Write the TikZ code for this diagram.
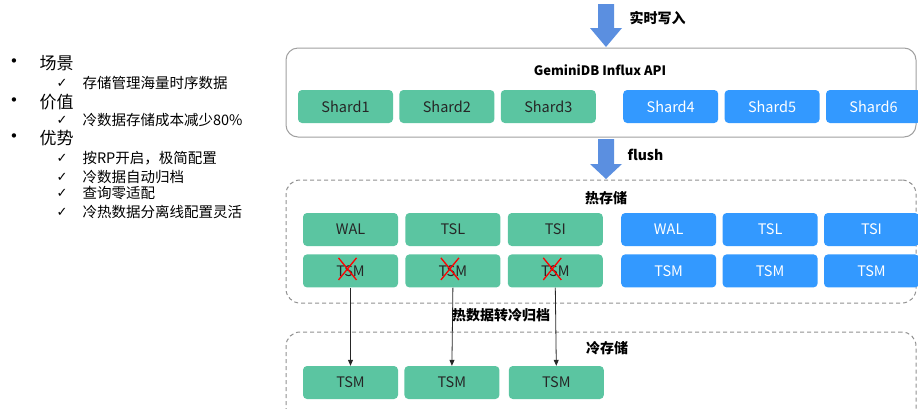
\documentclass[tikz,border=0pt]{standalone}
\usepackage{fontspec}
\setmainfont{Noto Sans CJK SC}
\newfontfamily\symfont{DejaVu Sans}
\usetikzlibrary{
    arrows.meta,
    positioning,
    calc
}
\definecolor{hotgreen}{HTML}{5BC5A1}
\definecolor{shardblue}{HTML}{3399FF}
\definecolor{arrowblue}{HTML}{5B8FE0}
\definecolor{framegray}{HTML}{A0A0A0}
\tikzset{
    % --- Green block (shard or file on the archiving side) ---
    green block/.style = {
        rectangle, rounded corners=4pt, fill=hotgreen,
        minimum width=95pt, minimum height=33pt, inner sep=0pt,
        font=\fontsize{14.5}{16}\selectfont, text=black!85
    },
    % --- Blue block (shard or file staying hot) ---
    blue block/.style = {
        green block, fill=shardblue, text=white
    },
    % --- Solid frame round the API layer ---
    api frame/.style = {
        rectangle, draw=framegray, line width=1pt,
        rounded corners=12pt
    },
    % --- Dashed frame round a storage tier ---
    store frame/.style = {
        rectangle, draw=framegray!90!black, line width=1pt,
        dash pattern=on 4pt off 3pt, rounded corners=14pt
    },
    % --- Bold title text ---
    title/.style = {
        font=\bfseries\fontsize{14}{16}\selectfont
    },
    % --- Red strike over a moved file ---
    strike/.style = {
        draw=red, line width=1.3pt
    },
    % --- Archive arrow ---
    archive arrow/.style = {
        -{Triangle[length=6pt,width=5pt]}, line width=0.8pt, black!85
    },
    % --- Fat blue arrow ---
    block arrow/.style = {
        fill=arrowblue, draw=none
    },
    % --- Left hand list ---
    heading/.style = {
        anchor=west, font=\fontsize{17}{19}\selectfont
    },
    entry/.style = {
        anchor=west, font=\fontsize{14.5}{16}\selectfont
    },
    dot/.style = {
        font=\symfont\fontsize{15}{16}\selectfont
    },
    sym/.style = {
        font=\symfont\fontsize{13}{14}\selectfont
    }
}
\begin{document}
\begin{tikzpicture}[x=1pt, y=-1pt]
\useasboundingbox (0,0) rectangle (918,408);

% ---------------------------------------------------------
% Left list
% ---------------------------------------------------------
\foreach \y/\txt in {63/场景, 102/价值, 138/优势} {
    \node[dot] (b\y) at (14,\y) {•};
    \node[heading] (h\y) at (36,\y) {\txt};
}
\foreach \y/\txt in {83/存储管理海量时序数据, 120/冷数据存储成本减少80\%,
    158/按RP开启，极简配置, 177/冷数据自动归档, 193/查询零适配,
    212/冷热数据分离线配置灵活} {
    \node[sym] (c\y) at (62,\y) {✓};
    \node[entry] (e\y) at (79,\y) {\txt};
}

% ---------------------------------------------------------
% Frames
% ---------------------------------------------------------
\node[api frame, minimum width=630pt, minimum height=89pt] (api) at (601,92.5) {};
\node[store frame, minimum width=630pt, minimum height=123pt] (hot) at (601,241.5) {};
\node[store frame, minimum width=630pt, minimum height=100pt] (cold) at (601,382) {};

\node[title, font=\bfseries\fontsize{13}{15}\selectfont] (apiTitle) at (600,70) {GeminiDB Influx API};
\node[title] (hotTitle) at (606,198) {热存储};
\node[title] (coldTitle) at (607,348) {冷存储};

% ---------------------------------------------------------
% Fat arrows
% ---------------------------------------------------------
\foreach \top/\head/\tip in {4/28/47, 139/164/179} {
    \fill[block arrow] (598,\top) -- (614,\top) -- (614,\head) -- (622,\head)
        -- (606,\tip) -- (590,\head) -- (598,\head) -- cycle;
}
\node[title, anchor=west] (writeIn) at (626,18) {实时写入};
\node[title, anchor=west] (flush) at (624,155) {flush};

% ---------------------------------------------------------
% Shards
% ---------------------------------------------------------
\node[green block] (S1) at (345.5,106.5) {Shard1};
\node[green block, right=6pt of S1] (S2) {Shard2};
\node[green block, right=6pt of S2] (S3) {Shard3};
\node[blue block, right=27pt of S3] (S4) {Shard4};
\node[blue block, right=6pt of S4] (S5) {Shard5};
\node[blue block, right=6pt of S5] (S6) {Shard6};

% ---------------------------------------------------------
% Hot tier
% ---------------------------------------------------------
\node[green block] (hWAL) at (350.5,229.5) {WAL};
\node[green block, right=7pt of hWAL] (hTSL) {TSL};
\node[green block, right=7pt of hTSL] (hTSI) {TSI};
\node[blue block, right=18pt of hTSI] (bWAL) {WAL};
\node[blue block, right=6pt of bWAL] (bTSL) {TSL};
\node[blue block, right=6pt of bTSL] (bTSI) {TSI};

\node[green block, below=8pt of hWAL] (hTSM1) {TSM};
\node[green block, below=8pt of hTSL] (hTSM2) {TSM};
\node[green block, below=8pt of hTSI] (hTSM3) {TSM};
\node[blue block, below=8pt of bWAL] (bTSM1) {TSM};
\node[blue block, below=8pt of bTSL] (bTSM2) {TSM};
\node[blue block, below=8pt of bTSI] (bTSM3) {TSM};

\foreach \n in {hTSM1, hTSM2, hTSM3} {
    \draw[strike] ($(\n)+(-12,-13)$) -- ($(\n)+(6,9)$);
    \draw[strike] ($(\n)+(-12,9)$) -- ($(\n)+(6,-13)$);
}

% ---------------------------------------------------------
% Cold tier
% ---------------------------------------------------------
\node[green block] (cTSM1) at (350.5,382.5) {TSM};
\node[green block, right=6pt of cTSM1] (cTSM2) {TSM};
\node[green block, right=9pt of cTSM2] (cTSM3) {TSM};

\foreach \i in {1,2,3} {
    \draw[archive arrow] (hTSM\i.south) -- (cTSM\i.north);
}
\node[title] (archive) at (501,315) {热数据转冷归档};

\end{tikzpicture}
\end{document}
